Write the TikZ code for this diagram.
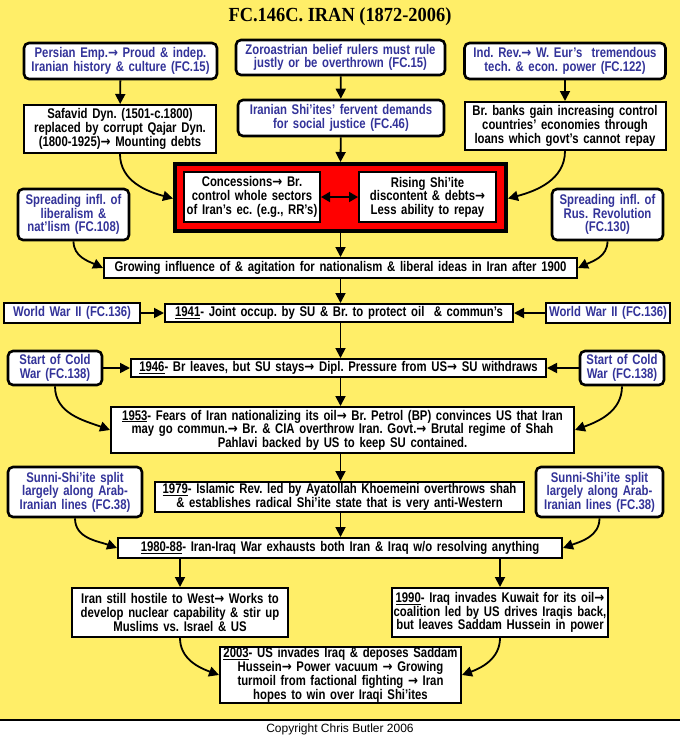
\documentclass[tikz,border=0pt]{standalone}
\usepackage{fontspec}
\setmainfont{Liberation Sans}
\newfontfamily\bodyf[FakeStretch=0.81]{Liberation Sans}
\newfontfamily\arrowf[FakeStretch=0.85]{DejaVu Sans}
\newfontfamily\titlef[FakeStretch=0.92]{Liberation Serif}
\newcommand{\ra}{{\arrowf\bfseries →}}
\frenchspacing
\usetikzlibrary{arrows.meta}
\definecolor{bgyellow}{RGB}{255,238,104}
\definecolor{refblue}{RGB}{51,51,153}
\tikzset{
  base/.style={draw=black, fill=white, align=center, inner sep=0pt, font=\bodyf\bfseries\fontsize{14}{13.6}\selectfont\frenchspacing},
  sqbox/.style={base, line width=2pt},
  rbox/.style={base, line width=2.6pt, rounded corners=5pt, text=refblue},
  bbox/.style={base, line width=2.6pt, text=refblue},
  arr/.style={line width=1.8pt, -{Triangle[length=10pt,width=10pt]}},
  darr/.style={line width=1.8pt, {Triangle[length=9pt,width=10pt]}-{Triangle[length=9pt,width=10pt]}},
}
\begin{document}
\begin{tikzpicture}[x=1pt,y=-1pt]
\useasboundingbox (0,0) rectangle (680,737);
\fill[white] (0,0) rectangle (680,737);
\fill[bgyellow] (0,0) rectangle (680,720);
\draw[line width=1.2pt] (0,720) -- (680,720);
\node[font=\titlef\bfseries\fontsize{20}{22}\selectfont] (title) at (340,17) {FC.146C. IRAN (1872-2006)};
\node[font=\fontsize{12}{13}\selectfont] (copy) at (340,729) {Copyright Chris Butler 2006};

% top row
\node[rbox, minimum width=193pt, minimum height=36pt, text width=193pt] (persian) at (120.5,61) {Persian Emp.\ra{} Proud \& indep.\\Iranian history \& culture (FC.15)};
\node[rbox, minimum width=209pt, minimum height=35pt, text width=209pt] (zoro) at (340.5,57.5) {Zoroastrian belief rulers must rule\\justly or be overthrown (FC.15)};
\node[rbox, minimum width=201pt, minimum height=36pt, text width=201pt] (indrev) at (565,61) {Ind. Rev.\ra{} W. Eur’s\ \ tremendous\\tech. \& econ. power (FC.122)};

\node[sqbox, minimum width=192pt, minimum height=48pt, text width=192pt] (safavid) at (120,129) {Safavid Dyn. (1501-c.1800)\\replaced by corrupt Qajar Dyn.\\(1800-1925)\ra{} Mounting debts};
\node[rbox, minimum width=206pt, minimum height=36pt, text width=206pt] (shiites) at (341,118) {Iranian Shi’ites’ fervent demands\\for social justice (FC.46)};
\node[sqbox, minimum width=201pt, minimum height=48pt, text width=201pt] (banks) at (565,126) {Br. banks gain increasing control\\countries’ economies through\\loans which govt’s cannot repay};

% red box
\node[draw=black, line width=4pt, fill=red, minimum width=331pt, minimum height=67pt, inner sep=0pt] (redbox) at (340.5,197.5) {};
\node[sqbox, minimum width=136pt, minimum height=50pt, text width=136pt] (conc) at (252,197) {Concessions\ra{} Br.\\control whole sectors\\of Iran’s ec. (e.g., RR’s)};
\node[sqbox, minimum width=137pt, minimum height=50pt, text width=137pt] (rising) at (427.5,197) {Rising Shi’ite\\discontent \& debts\ra\\Less ability to repay};

\node[rbox, minimum width=111pt, minimum height=51pt, text width=111pt] (spreadlib) at (73.5,214.5) {Spreading infl. of\\liberalism \&\\nat’lism (FC.108)};
\node[rbox, minimum width=111pt, minimum height=51pt, text width=111pt] (spreadrus) at (607.5,214.5) {Spreading infl. of\\Rus. Revolution\\(FC.130)};

\node[sqbox, minimum width=473pt, minimum height=20pt, text width=473pt] (growing) at (340.5,268) {Growing influence of \& agitation for nationalism \& liberal ideas in Iran after 1900};

\node[bbox, minimum width=136pt, minimum height=20pt, text width=136pt] (ww2l) at (72,313) {World War II (FC.136)};
\node[sqbox, minimum width=348pt, minimum height=18pt, text width=348pt] (y1941) at (339,313) {\underline{1941}- Joint occup. by SU \& Br. to protect oil\ \ \& commun’s};
\node[bbox, minimum width=124pt, minimum height=20pt, text width=124pt] (ww2r) at (608,313) {World War II (FC.136)};

\node[rbox, minimum width=94pt, minimum height=34pt, text width=94pt] (coldl) at (55,368) {Start of Cold\\War (FC.138)};
\node[sqbox, minimum width=415pt, minimum height=18pt, text width=415pt] (y1946) at (338.5,368) {\underline{1946}- Br leaves, but SU stays\ra{} Dipl. Pressure from US\ra{} SU withdraws};
\node[rbox, minimum width=84pt, minimum height=34pt, text width=84pt] (coldr) at (622,368) {Start of Cold\\War (FC.138)};

\node[sqbox, minimum width=463pt, minimum height=46pt, text width=463pt] (y1953) at (342.5,430) {\underline{1953}- Fears of Iran nationalizing its oil\ra{} Br. Petrol (BP) convinces US that Iran\\may go commun.\ra{} Br. \& CIA overthrow Iran. Govt.\ra{} Brutal regime of Shah\\Pahlavi backed by US to keep SU contained.};

\node[rbox, minimum width=134pt, minimum height=50pt, text width=134pt] (sunnil) at (75,492) {Sunni-Shi’ite split\\largely along Arab-\\Iranian lines (FC.38)};
\node[sqbox, minimum width=369pt, minimum height=30pt, text width=369pt] (y1979) at (339.5,497) {\underline{1979}- Islamic Rev. led by Ayatollah Khoemeini overthrows shah\\\& establishes radical Shi’ite state that is very anti-Western};
\node[rbox, minimum width=127pt, minimum height=50pt, text width=127pt] (sunnir) at (599.5,492) {Sunni-Shi’ite split\\largely along Arab-\\Iranian lines (FC.38)};

\node[sqbox, minimum width=444pt, minimum height=20pt, text width=444pt] (y1980) at (340,548) {\underline{1980-88}- Iran-Iraq War exhausts both Iran \& Iraq w/o resolving anything};

\node[sqbox, minimum width=216pt, minimum height=49pt, text width=216pt] (iranstill) at (180,612.5) {Iran still hostile to West\ra{} Works to\\develop nuclear capability \& stir up\\Muslims vs. Israel \& US};
\node[sqbox, minimum width=216pt, minimum height=49pt, text width=216pt] (y1990) at (500,612.5) {\underline{1990}- Iraq invades Kuwait for its oil\ra\\coalition led by US drives Iraqis back,\\but leaves Saddam Hussein in power};
\node[sqbox, minimum width=241pt, minimum height=56pt, text width=241pt, font=\bodyf\bfseries\fontsize{14}{13}\selectfont\frenchspacing] (y2003) at (340.5,675) {\underline{2003}- US invades Iraq \& deposes Saddam\\Hussein\ra{} Power vacuum \ra{} Growing\\turmoil from factional fighting \ra{} Iran\\hopes to win over Iraqi Shi’ites};

% connectors
\draw[arr] (persian) -- (safavid);
\draw[arr] (zoro) -- (shiites);
\draw[arr] (indrev.south -| banks.north) -- (banks.north);
\draw[arr] (shiites) -- (redbox.north);
\draw[arr] (safavid.south) to[out=-90,in=165] ([yshift=-1pt]redbox.west);
\draw[arr] (banks.south) to[out=-90,in=15] ([yshift=-1pt]redbox.east);
\draw[darr] (conc) -- (rising);
\draw[arr] (redbox.south) -- (growing.north -| redbox.south);
\draw[arr] (spreadlib.south) to[out=-90,in=155] (growing.west);
\draw[arr] (spreadrus.south) to[out=-90,in=25] (growing.east);
\draw[arr] (growing.south) -- (y1941.north -| growing.south);
\draw[arr] (ww2l) -- (y1941);
\draw[arr] (ww2r) -- (y1941);
\draw[arr] (y1941.south -| growing.south) -- (y1946.north -| growing.south);
\draw[arr] (coldl) -- (y1946);
\draw[arr] (coldr) -- (y1946);
\draw[arr] (y1946.south -| growing.south) -- (y1953.north -| growing.south);
\draw[arr] (coldl.south) to[out=-90,in=160] (y1953.west);
\draw[arr] (coldr.south) to[out=-90,in=20] (y1953.east);
\draw[arr] (y1953.south -| growing.south) -- (y1979.north -| growing.south);
\draw[arr] (y1979.south -| growing.south) -- (y1980.north -| growing.south);
\draw[arr] (sunnil.south) to[out=-90,in=160] (y1980.west);
\draw[arr] (sunnir.south) to[out=-90,in=20] (y1980.east);
\draw[arr] (y1980.south -| iranstill.north) -- (iranstill.north);
\draw[arr] (y1980.south -| y1990.north) -- (y1990.north);
\draw[arr] (iranstill.south) to[out=-90,in=160] (y2003.west);
\draw[arr] (y1990.south) to[out=-90,in=20] (y2003.east);
\end{tikzpicture}
\end{document}
